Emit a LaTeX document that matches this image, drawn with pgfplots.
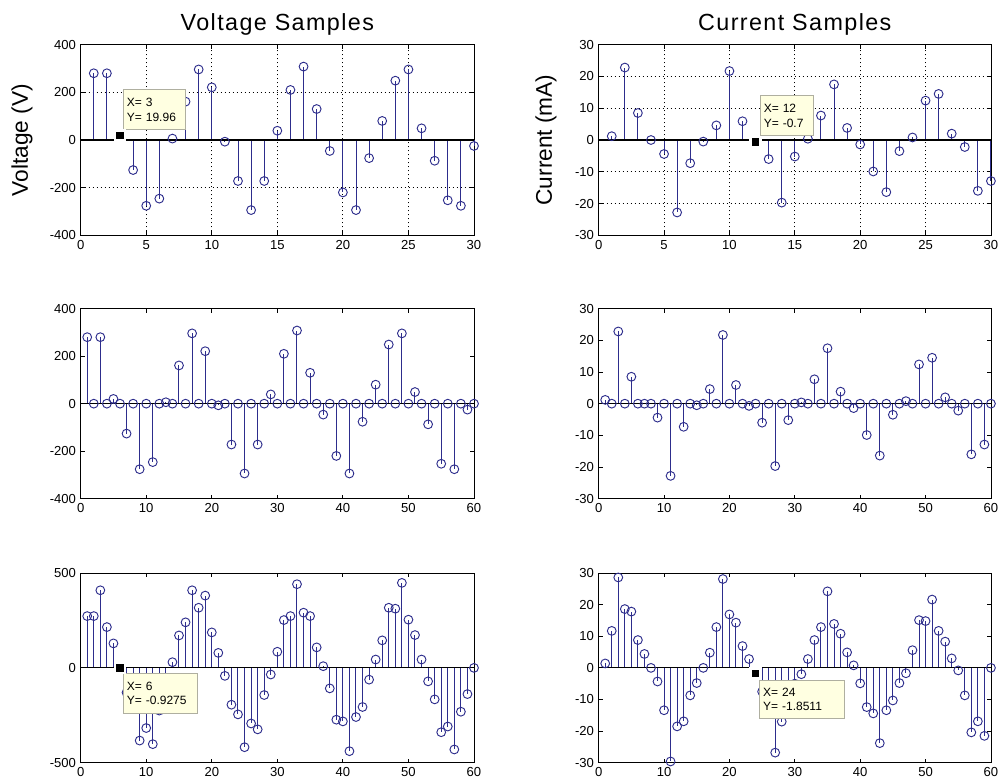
\documentclass[border=0pt]{standalone}
\usepackage{fontspec}
\setmainfont{Liberation Sans}
\usepackage{pgfplots}
\pgfplotsset{compat=1.18}

\definecolor{stem}{RGB}{45,45,140}
\definecolor{tipfill}{RGB}{255,255,225}
\definecolor{tipline}{RGB}{175,175,160}

\tikzset{tipbox/.style={draw=tipline, fill=tipfill, align=left, inner xsep=3pt, inner ysep=2pt,
    font=\fontsize{9}{11}\selectfont}}

\pgfplotsset{
  panel/.style={
    scale only axis, width=295pt, height=143pt, clip=false,
    /pgf/number format/assume math mode=true,
    axis line style={line width=0.6pt},
    tick style={black, line width=0.6pt}, major tick length=3pt,
    tick label style={font=\fontsize{9.8}{11}\selectfont},
    every axis title/.style={at={(axis description cs:0.5,1)}, anchor=base, yshift=11pt,
      font=\fontsize{17.5}{20}\selectfont\addfontfeatures{LetterSpace=6}},
    every axis y label/.style={rotate=90, anchor=center, font=\fontsize{17}{19}\selectfont},
  },
  overlay/.style={scale only axis, width=295pt, height=143pt, clip=false, hide axis},
  dgrid/.style={xmajorgrids, ymajorgrids,
    major grid style={black, line width=0.6pt, dash pattern=on 0.7pt off 2.3pt}},
  stemplot/.style={ycomb, color=stem, line width=0.75pt, mark=o, mark size=3.3pt,
    mark options={line width=0.7pt}},
  tipmark/.style={only marks, mark=square*, mark size=3.8pt,
    mark options={fill=black, draw=white, line width=2pt}},
  x30/.style={xmin=0, xmax=30, xtick={0,5,...,30}},
  x60/.style={xmin=0, xmax=60, xtick={0,10,...,60}},
  yV/.style={ymin=-400, ymax=400, ytick={-400,-200,0,200,400}},
  yI/.style={ymin=-30, ymax=30, ytick={-30,-20,...,30}},
}

\begin{document}
\begin{tikzpicture}
\useasboundingbox (0,0) rectangle (749.25pt,-587.25pt);

% ---- top left: voltage samples
\begin{axis}[panel, dgrid, x30, yV, at={(60.5pt,-33.5pt)}, anchor=north west,
  title={Voltage Samples}, ylabel={Voltage (V)},
  ylabel style={at={(axis description cs:-0.149,0.5)}}]
\addplot[stemplot] table {
x y
1 280
2 280
3 19.96
4 -126
5 -276
6 -246
7 6
8 161
9 296
10 221
11 -7
12 -172
13 -294
14 -172
15 39
16 210
17 308
18 130
19 -46
20 -220
21 -294
22 -76
23 80
24 249
25 296
26 49
27 -87
28 -253
29 -276
30 -25
};
\addplot[black, line width=0.8pt] coordinates {(0,0) (30,0)};
\end{axis}
\begin{axis}[overlay, x30, yV, at={(60.5pt,-33.5pt)}, anchor=north west]
\addplot[tipmark] coordinates {(3,19.96)};
\node[tipbox, anchor=south west, text width=41pt, minimum height=30pt] at (axis cs:3.2,42) {X= 3\\Y= 19.96};
\end{axis}

% ---- top right: current samples
\begin{axis}[panel, width=294.2pt, dgrid, x30, yI, at={(449pt,-33.5pt)}, anchor=north west,
  title={Current Samples}, ylabel={Current (mA)},
  ylabel style={at={(axis description cs:-0.134,0.5)}}]
\addplot[stemplot] table {
x y
1 1.2
2 22.8
3 8.5
4 0
5 -4.4
6 -22.8
7 -7.3
8 -0.5
9 4.6
10 21.7
11 5.9
12 -0.7
13 -6.0
14 -19.7
15 -5.2
16 0.4
17 7.7
18 17.5
19 3.8
20 -1.4
21 -9.9
22 -16.4
23 -3.5
24 0.8
25 12.4
26 14.5
27 2.0
28 -2.2
29 -16.0
30 -12.9
};
\addplot[black, line width=0.8pt] coordinates {(0,0) (30,0)};
\end{axis}
\begin{axis}[overlay, width=294.2pt, x30, yI, at={(449pt,-33.5pt)}, anchor=north west]
\addplot[tipmark] coordinates {(12,-0.7)};
\node[tipbox, anchor=south west, text width=34pt, minimum height=30pt] at (axis cs:12.3,1.3) {X= 12\\Y= -0.7};
\end{axis}

% ---- middle left: upsampled voltage
\begin{axis}[panel, x60, yV, at={(60.5pt,-231.5pt)}, anchor=north west, height=142.5pt]
\addplot[stemplot] table {
x y
1 280
2 0
3 280
4 0
5 19.96
6 0
7 -126
8 0
9 -276
10 0
11 -246
12 0
13 6
14 0
15 161
16 0
17 296
18 0
19 221
20 0
21 -7
22 0
23 -172
24 0
25 -294
26 0
27 -172
28 0
29 39
30 0
31 210
32 0
33 308
34 0
35 130
36 0
37 -46
38 0
39 -220
40 0
41 -294
42 0
43 -76
44 0
45 80
46 0
47 249
48 0
49 296
50 0
51 49
52 0
53 -87
54 0
55 -253
56 0
57 -276
58 0
59 -25
60 0
};
\addplot[black, line width=0.8pt] coordinates {(0,0) (60,0)};
\end{axis}

% ---- middle right: upsampled current
\begin{axis}[panel, width=294.2pt, x60, yI, at={(449pt,-231.5pt)}, anchor=north west, height=142.5pt]
\addplot[stemplot] table {
x y
1 1.2
2 0
3 22.8
4 0
5 8.5
6 0
7 0
8 0
9 -4.4
10 0
11 -22.8
12 0
13 -7.3
14 0
15 -0.5
16 0
17 4.6
18 0
19 21.7
20 0
21 5.9
22 0
23 -0.7
24 0
25 -6.0
26 0
27 -19.7
28 0
29 -5.2
30 0
31 0.4
32 0
33 7.7
34 0
35 17.5
36 0
37 3.8
38 0
39 -1.4
40 0
41 -9.9
42 0
43 -16.4
44 0
45 -3.5
46 0
47 0.8
48 0
49 12.4
50 0
51 14.5
52 0
53 2.0
54 0
55 -2.2
56 0
57 -16.0
58 0
59 -12.9
60 0
};
\addplot[black, line width=0.8pt] coordinates {(0,0) (60,0)};
\end{axis}

% ---- bottom left: interpolated voltage
\begin{axis}[panel, x60, ymin=-500, ymax=500, ytick={-500,0,500},
  at={(60.5pt,-429.75pt)}, anchor=north west, height=142.3pt]
\addplot[stemplot] table {
x y
1 273
2 273
3 409
4 215
5 129
6 -0.9275
7 -130
8 -210
9 -383
10 -317
11 -402
12 -225
13 -110
14 30
15 171
16 240
17 409
18 317
19 381
20 187
21 79
22 -42
23 -194
24 -245
25 -418
26 -293
27 -324
28 -143
29 -35
30 85
31 252
32 273
33 441
34 291
35 273
36 108
37 9
38 -108
39 -273
40 -282
41 -439
42 -259
43 -206
44 -62
45 44
46 145
47 317
48 312
49 448
50 254
51 173
52 44
53 -71
54 -166
55 -339
56 -309
57 -430
58 -231
59 -138
60 0
};
\addplot[black, line width=0.8pt] coordinates {(0,0) (60,0)};
\end{axis}
\begin{axis}[overlay, x60, ymin=-500, ymax=500, at={(60.5pt,-429.75pt)}, anchor=north west, height=142.3pt]
\addplot[tipmark] coordinates {(6,-0.9275)};
\node[tipbox, anchor=north west, text width=49.5pt, minimum height=30pt] at (axis cs:6.4,-28) {X= 6\\Y= -0.9275};
\end{axis}

% ---- bottom right: interpolated current
\begin{axis}[panel, width=294.2pt, x60, yI, at={(449pt,-429.75pt)}, anchor=north west, height=142.3pt]
\addplot[stemplot] table {
x y
1 1.4
2 11.7
3 28.6
4 18.6
5 17.8
6 8.8
7 4.4
8 0
9 -4.3
10 -13.4
11 -29.6
12 -18.5
13 -16.9
14 -8.7
15 -4.8
16 0
17 4.8
18 12.9
19 28.1
20 16.9
21 14.3
22 6.9
23 2.8
24 -1.8511
25 -7.5
26 -13
27 -26.8
28 -17
29 -10
30 -5
31 -2
32 2.8
33 8.8
34 12.9
35 24.2
36 13.9
37 10.8
38 4.9
39 0.8
40 -4.9
41 -12.4
42 -14.4
43 -23.8
44 -13.4
45 -10.3
46 -4.8
47 -1.7
48 5.6
49 15.1
50 14.8
51 21.6
52 11.7
53 8.3
54 3.0
55 -0.8
56 -8.7
57 -20.4
58 -16.9
59 -21.5
60 0
};
\addplot[black, line width=0.8pt] coordinates {(0,0) (60,0)};
\end{axis}
\begin{axis}[overlay, width=294.2pt, x60, yI, at={(449pt,-429.75pt)}, anchor=north west, height=142.3pt]
\addplot[tipmark] coordinates {(24,-1.8511)};
\node[tipbox, anchor=north west, text width=58pt, minimum height=28.5pt] at (axis cs:24.5,-3.9) {X= 24\\Y= -1.8511};
\end{axis}
\end{tikzpicture}
\end{document}
